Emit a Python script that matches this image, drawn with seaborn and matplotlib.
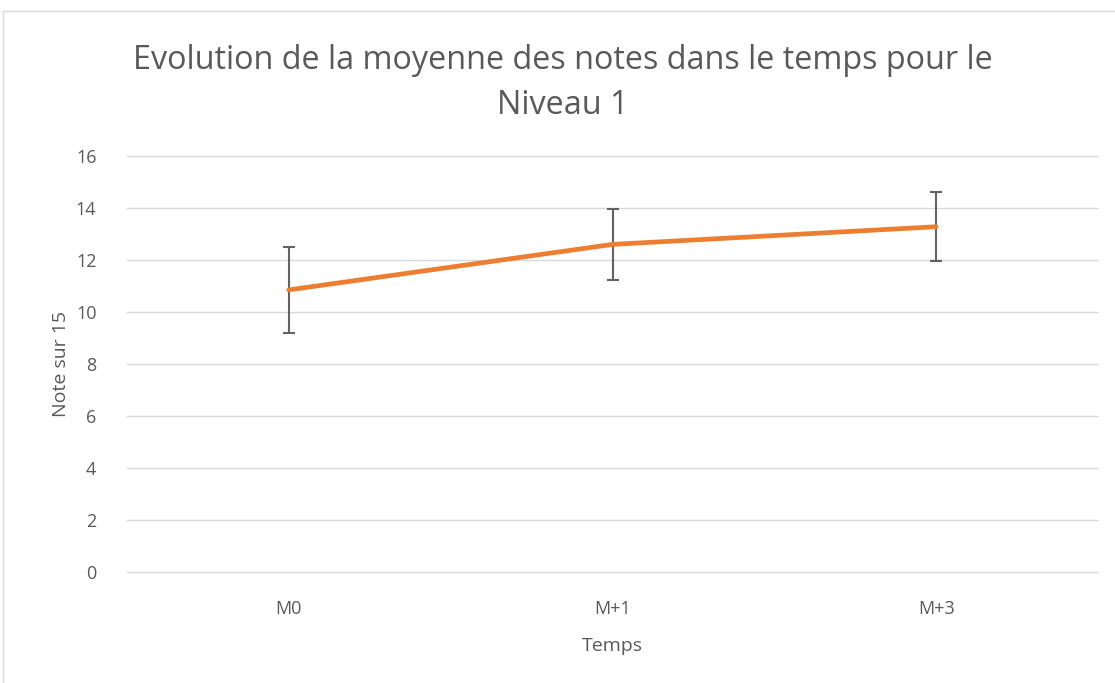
import matplotlib
matplotlib.use("Agg")
import matplotlib.pyplot as plt
import seaborn as sns
import pandas as pd
from matplotlib.lines import Line2D

categories = ["M0", "M+1", "M+3"]
means = [10.85, 12.6, 13.28]
errors = [1.64, 1.37, 1.32]
y_ticks = [0, 2, 4, 6, 8, 10, 12, 14, 16]

sns.set_theme(style="white")
plt.rcParams['font.family'] = ['Open Sans', 'DejaVu Sans']

TXT = "#595959"
fig = plt.figure(figsize=(11.15, 6.83), dpi=100)
ax = fig.add_axes([127/1115, 1-572/683, (1098-127)/1115, (572-156)/683])

df = pd.DataFrame({"Temps": categories, "Note": means})
xs = list(range(len(categories)))
df["x"] = xs
ax.errorbar(df["x"], df["Note"], yerr=errors, fmt="none", ecolor="#636363",
            elinewidth=1.5, capsize=4.5, capthick=1.5, zorder=3)
sns.lineplot(data=df, x="x", y="Note", ax=ax, color="#ED7D31", linewidth=3.4,
             solid_capstyle="round", zorder=4)

ax.set_xlim(-0.5, len(categories) - 0.5)
ax.set_ylim(0, 16)
ax.set_yticks(y_ticks)
ax.set_yticklabels([str(v) for v in y_ticks])
ax.set_xticks(xs)
ax.set_xticklabels(categories)
ax.yaxis.grid(True, color="#D9D9D9", linewidth=1)
for gl in ax.get_ygridlines():
    gl.set_clip_on(False)
ax.xaxis.grid(False)
for s in ax.spines.values():
    s.set_visible(False)
ax.tick_params(axis="both", length=0, colors=TXT, labelsize=13)
ax.tick_params(axis="y", pad=22)
ax.tick_params(axis="x", pad=20)
ax.set_xlabel("Temps", color=TXT, fontsize=14, labelpad=14)
ax.set_ylabel("Note sur 15", color=TXT, fontsize=14, labelpad=4)

fig.text(0.505, 1-83/683, "Evolution de la moyenne des notes dans le temps pour le\nNiveau 1",
         ha="center", va="center", fontsize=23.3, color=TXT, linespacing=1.5)

# outer chart border
fig.add_artist(Line2D([3/1115, 3/1115], [0, 1-11/683], transform=fig.transFigure, color="#D9D9D9", lw=1))
fig.add_artist(Line2D([3/1115, 1], [1-11/683, 1-11/683], transform=fig.transFigure, color="#D9D9D9", lw=1))

fig.savefig("out.png", dpi=100)
